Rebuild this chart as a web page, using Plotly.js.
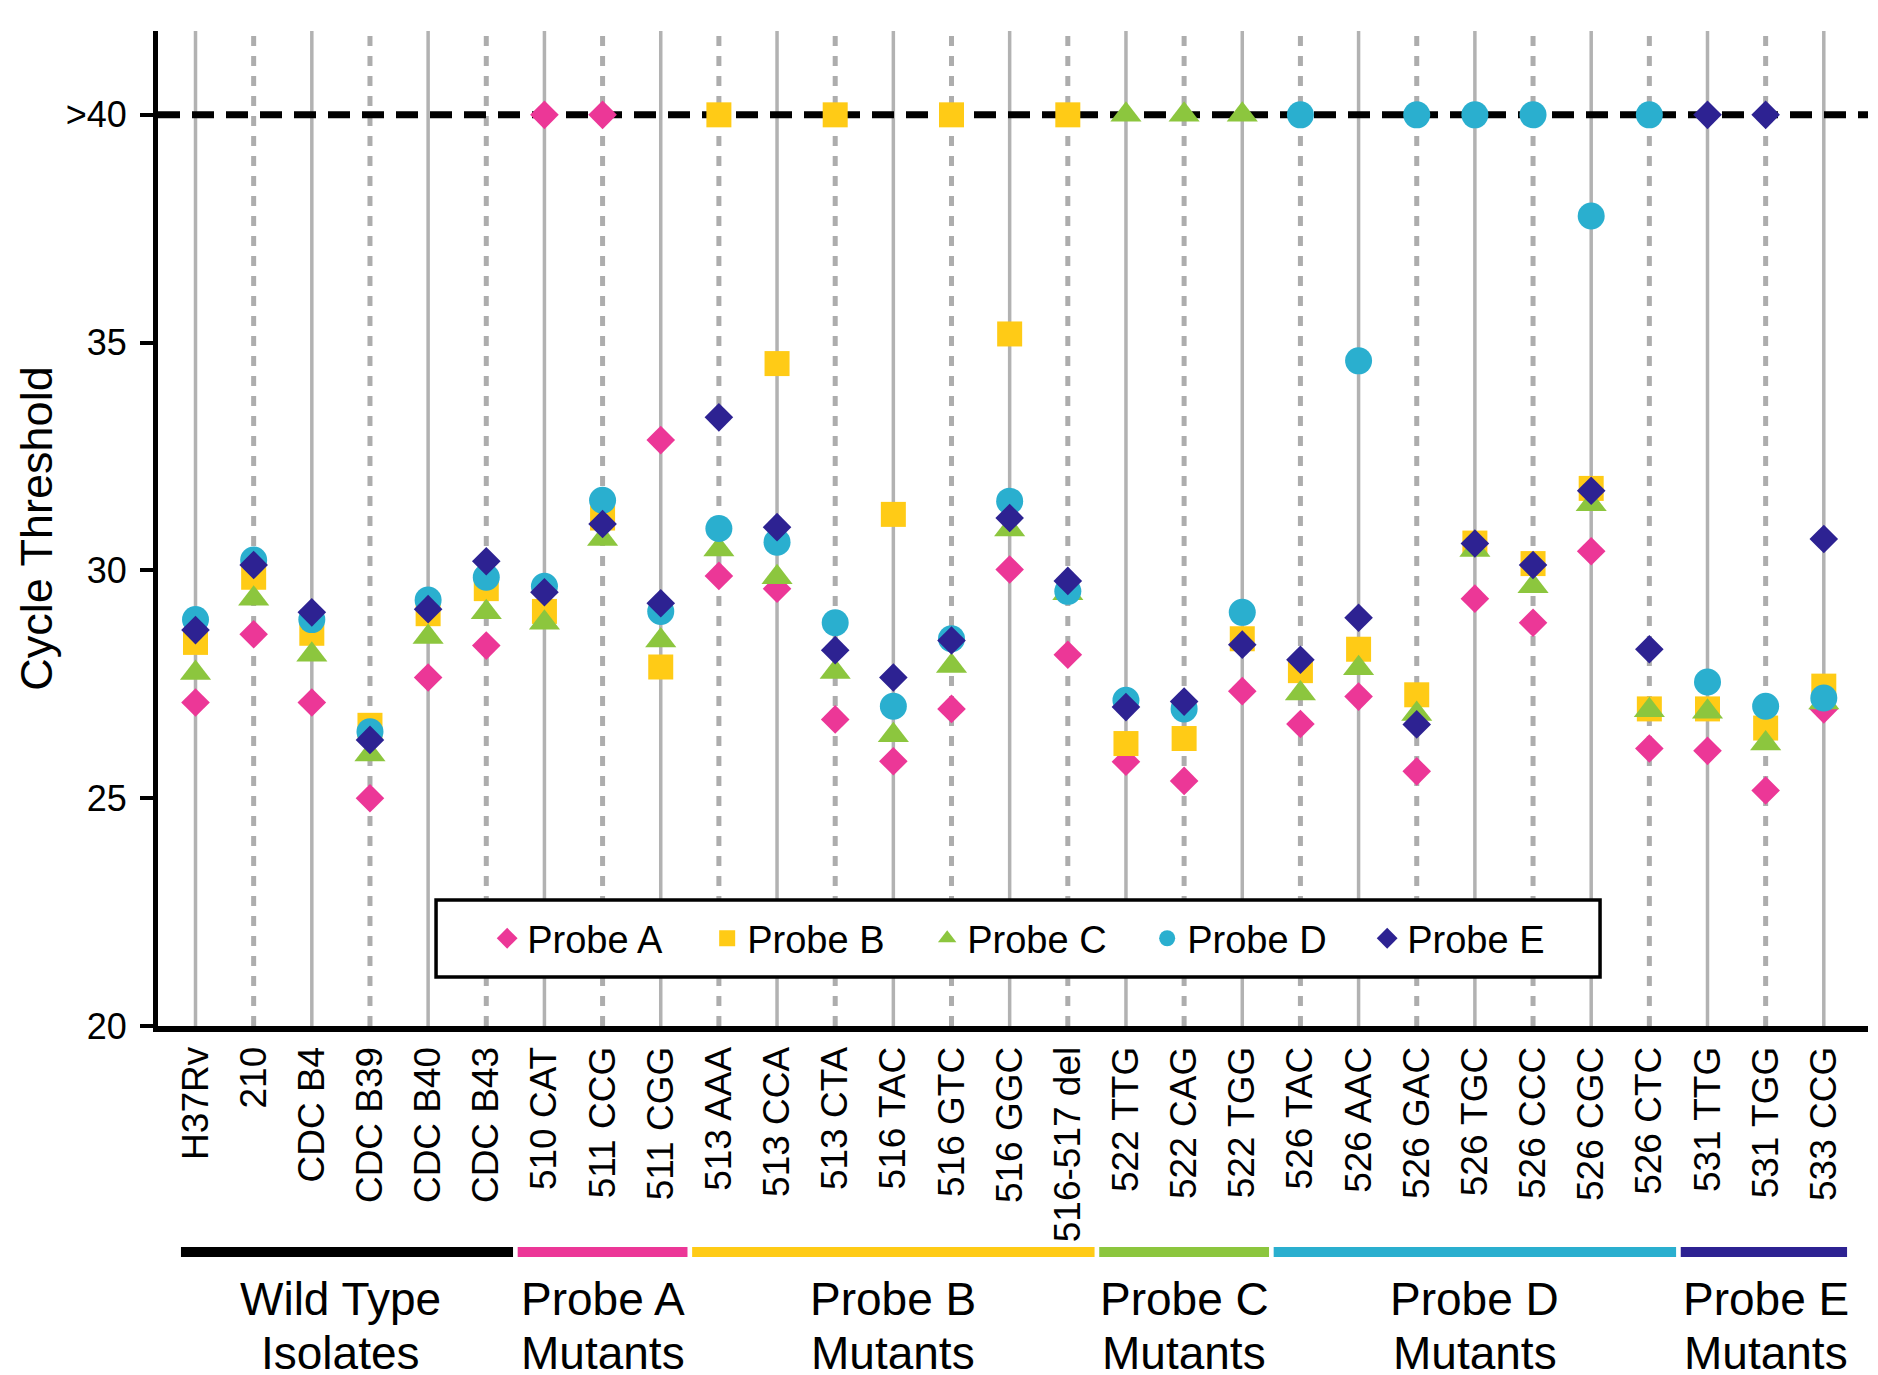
<!DOCTYPE html>
<html>
<head>
<meta charset="utf-8">
<script src="https://cdn.plot.ly/plotly-3.0.1.min.js"></script>
<style>
  html, body { margin: 0; padding: 0; background: #fff; }
  #chart { width: 1878px; height: 1375px; }
</style>
</head>
<body>
<div id="chart"></div>
<script>
// Isolates along the x axis
const isolates = ['H37Rv', '210', 'CDC B4', 'CDC B39', 'CDC B40', 'CDC B43',
  '510 CAT', '511 CCG', '511 CGG',
  '513 AAA', '513 CCA', '513 CTA', '516 TAC', '516 GTC', '516 GGC', '516-517 del',
  '522 TTG', '522 CAG', '522 TGG',
  '526 TAC', '526 AAC', '526 GAC', '526 TGC', '526 CCC', '526 CGC', '526 CTC',
  '531 TTG', '531 TGG', '533 CCG'];

// Cycle threshold per probe (40 = no amplification, shown as ">40")
const probeA = [27.10, 28.60, 27.10, 25.00, 27.65, 28.35, 40, 40, 32.86,
  29.88, 29.60, 26.73, 25.81, 26.96, 30.02, 28.15, 25.80, 25.38, 27.35,
  26.63, 27.23, 25.59, 29.38, 28.85, 30.42, 26.09, 26.04, 25.17, 26.95];
const probeB = [28.42, 29.85, 28.62, 26.60, 29.05, 29.60, 29.10, 31.15, 27.88,
  40, 34.54, 40, 31.23, 40, 35.19, 40, 26.20, 26.31, 28.50,
  27.80, 28.27, 27.27, 30.60, 30.15, 31.80, 26.96, 26.96, 26.54, 27.46];
const probeC = [27.75, 29.38, 28.15, 25.96, 28.54, 29.08, 28.85, 30.69, 28.46,
  30.46, 29.85, 27.77, 26.38, 27.90, 30.90, 29.50, 40, 40, 40,
  27.30, 27.85, 26.85, 30.45, 29.65, 31.45, 26.93, 26.90, 26.20, 27.10];
const probeD = [28.92, 30.23, 28.92, 26.46, 29.35, 29.85, 29.65, 31.54, 29.10,
  30.92, 30.62, 28.85, 27.02, 28.50, 31.52, 29.54, 27.15, 26.96, 29.08,
  40, 34.60, 40, 40, 40, 37.78, 40, 27.55, 27.02, 27.20];
const probeE = [28.69, 30.12, 29.08, 26.28, 29.15, 30.20, 29.52, 31.02, 29.28,
  33.36, 30.95, 28.25, 27.65, 28.46, 31.15, 29.77, 27.00, 27.12, 28.37,
  28.04, 28.96, 26.62, 30.59, 30.12, 31.75, 28.27, 40, 40, 30.69];

const probeNames = ['Probe A', 'Probe B', 'Probe C', 'Probe D', 'Probe E'];

// Isolate groups, in x order
const groupSizes = [6, 3, 7, 3, 7, 3];
const groupTitle = ['Wild Type', 'Probe A', 'Probe B', 'Probe C', 'Probe D', 'Probe E'];
const groupSubtitle = ['Isolates', 'Mutants', 'Mutants', 'Mutants', 'Mutants', 'Mutants'];

// y axis ticks
const cutoff = 40;
const yTickVals = [20, 25, 30, 35, 40];
const yTickText = ['20', '25', '30', '35', '>40'];

// ---------------------------------------------------------------------------
const FONT = '"Liberation Sans", Arial, Helvetica, sans-serif';
const probeStyle = [
  { symbol: 'diamond',     color: '#EC3797', size: 22 },
  { symbol: 'square',      color: '#FFCB16', size: 25 },
  { symbol: 'triangle-up', color: '#8CC63E', size: 27 },
  { symbol: 'circle',      color: '#2AAFCF', size: 27 },
  { symbol: 'diamond',     color: '#2D2292', size: 22 }
];
const groupColors = ['#000000', '#EC3797', '#FFCB16', '#8CC63E', '#2AAFCF', '#2D2292'];

const xIdx = isolates.map((_, i) => i);
const series = [probeA, probeB, probeC, probeD, probeE];

const traces = series.map((vals, k) => ({
  type: 'scatter',
  mode: 'markers',
  name: probeNames[k],
  x: xIdx,
  y: vals,
  cliponaxis: false,
  marker: {
    symbol: probeStyle[k].symbol,
    color: probeStyle[k].color,
    size: probeStyle[k].size,
    line: { width: 0 }
  }
}));

const shapes = [];
// vertical guide per isolate: solid / dotted alternating
xIdx.forEach(i => {
  shapes.push({
    type: 'line', xref: 'x', yref: 'paper', layer: 'below',
    x0: i, x1: i, y0: 0, y1: 1,
    line: i % 2 === 0
      ? { color: '#b2b2b2', width: 3.5 }
      : { color: '#adadad', width: 5, dash: '10px,10px' }
  });
});
// detection cutoff line
shapes.push({
  type: 'line', xref: 'paper', yref: 'y', layer: 'below',
  x0: 0, x1: 1, y0: cutoff, y1: cutoff,
  line: { color: '#000', width: 7, dash: '22px,12px' }
});
// legend frame
shapes.push({
  type: 'rect', xref: 'paper', yref: 'paper', layer: 'above',
  x0: 0.1626, x1: 0.8433, y0: 0.0492, y1: 0.1266,
  fillcolor: '#fff', line: { color: '#000', width: 3.5 }
});

// group bars and captions below the axis
const annotations = [];
let start = 0;
groupSizes.forEach((n, g) => {
  const first = start, last = start + n - 1;
  const x0 = g === 0 ? first - 0.25 : first - 0.46;
  const x1 = g === groupSizes.length - 1 ? last + 0.4 : last + 0.46;
  shapes.push({
    type: 'line', xref: 'x', yref: 'paper', layer: 'above',
    x0: x0, x1: x1, y0: -0.2271, y1: -0.2271,
    line: { color: groupColors[g], width: 10 }
  });
  const cx = (first + last) / 2;
  annotations.push({
    xref: 'x', yref: 'paper', x: cx, y: -0.2744, xanchor: 'center', yanchor: 'middle',
    text: groupTitle[g], showarrow: false, font: { family: FONT, size: 46, color: '#000' }
  });
  annotations.push({
    xref: 'x', yref: 'paper', x: cx, y: -0.3286, xanchor: 'center', yanchor: 'middle',
    text: groupSubtitle[g], showarrow: false, font: { family: FONT, size: 46, color: '#000' }
  });
  start += n;
});

const layout = {
  width: 1878,
  height: 1375,
  margin: { l: 158, r: 10, t: 31, b: 349, pad: 0 },
  paper_bgcolor: '#fff',
  plot_bgcolor: 'rgba(0,0,0,0)',
  font: { family: FONT, color: '#000' },
  showlegend: true,
  legend: {
    orientation: 'h',
    x: 0.1925, xanchor: 'left',
    y: 0.0879, yanchor: 'middle',
    bgcolor: 'rgba(0,0,0,0)',
    borderwidth: 0,
    entrywidth: 175,
    font: { family: FONT, size: 38, color: '#000' }
  },
  xaxis: {
    type: 'linear',
    range: [-0.645, 28.76],
    tickmode: 'array',
    tickvals: xIdx,
    ticktext: isolates,
    tickangle: -90,
    ticks: '',
    ticklen: 0,
    ticklabelstandoff: 0,
    tickfont: { family: FONT, size: 37, color: '#000' },
    showgrid: false,
    zeroline: false,
    showline: true,
    linecolor: '#000',
    linewidth: 6,
    automargin: false,
    fixedrange: true
  },
  yaxis: {
    range: [20, 41.84],
    tickmode: 'array',
    tickvals: yTickVals,
    ticktext: yTickText,
    ticks: 'outside',
    ticklen: 13,
    tickwidth: 4,
    tickcolor: '#000',
    ticklabelstandoff: 6,
    tickfont: { family: FONT, size: 36, color: '#000' },
    showgrid: false,
    zeroline: false,
    showline: true,
    linecolor: '#000',
    linewidth: 5,
    automargin: false,
    fixedrange: true,
    title: { text: 'Cycle Threshold', font: { family: FONT, size: 45, color: '#000' }, standoff: 0 }
  },
  shapes: shapes,
  annotations: annotations
};

Plotly.newPlot('chart', traces, layout, { staticPlot: true, displayModeBar: false });
</script>
</body>
</html>
